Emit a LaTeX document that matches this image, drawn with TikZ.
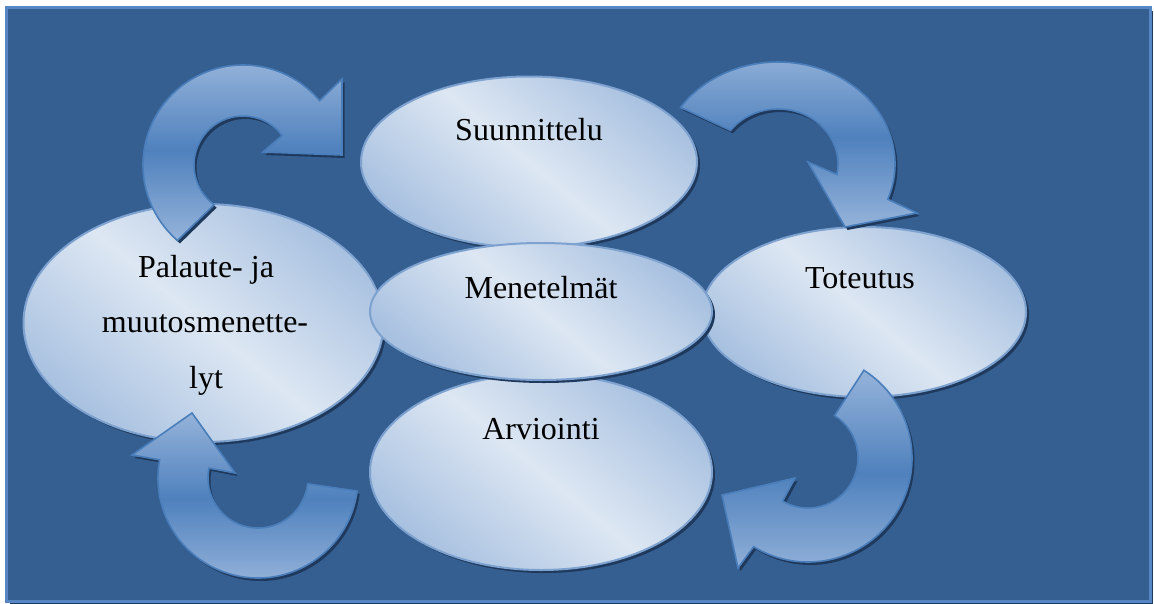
\documentclass[tikz,border=0pt]{standalone}
\usepackage{fontspec}
\setmainfont{Liberation Serif}
\usetikzlibrary{shapes.geometric,shadows,calc}
\definecolor{bgfill}{RGB}{54,95,145}
\definecolor{bgline}{RGB}{86,134,196}
\definecolor{shadowcol}{RGB}{31,57,92}
\definecolor{arrline}{RGB}{74,126,187}
\definecolor{arrlight}{RGB}{149,179,218}
\definecolor{arrmid}{RGB}{79,129,189}
\definecolor{ellline}{RGB}{125,162,208}
\definecolor{elllight}{RGB}{221,231,243}
\definecolor{elldark}{RGB}{168,193,224}
\begin{document}
\begin{tikzpicture}[x=1pt,y=-1pt,
  ell/.style={ellipse, inner sep=0pt, draw=ellline, line width=2pt,
    general shadow={fill=shadowcol, shadow xshift=3pt, shadow yshift=-3pt},
    top color=elldark, bottom color=elldark, middle color=elllight, shading angle=-40},
  lbl/.style={font=\fontsize{32}{38}\selectfont, text=black, inner sep=0pt, anchor=base},
  arr/.style={draw=arrline, line width=1.6pt, line join=miter,
    general shadow={fill=shadowcol, shadow xshift=2.5pt, shadow yshift=-3pt},
    top color=arrlight, bottom color=arrlight, middle color=arrmid}]
\useasboundingbox (0,0) rectangle (1154,603);
% background panel
\path[fill=bgfill, draw=bgline, line width=3pt,
  general shadow={fill=shadowcol, shadow xshift=3pt, shadow yshift=-3pt}]
  (6.5,7.5) rectangle (1150,601.5);
% ellipses
\node[ell, minimum width=336pt, minimum height=171pt] (suun) at (529,162) {};
\node[ell, minimum width=342pt, minimum height=196pt] (arvi) at (541,472) {};
\node[ell, minimum width=360pt, minimum height=238pt] (pala) at (203.5,323) {};
\node[ell, minimum width=324pt, minimum height=170pt] (tote) at (864,312) {};
\node[ell, minimum width=342pt, minimum height=137pt] (mene) at (541,311.5) {};
% labels
\node[lbl] (tsuun) at (529,140) {Suunnittelu};
\node[lbl] (tmene) at (541,298) {Menetelmät};
\node[lbl] (ttote) at (860,288) {Toteutus};
\node[lbl] (tarvi) at (541,439) {Arviointi};
\node[lbl] (tpal1) at (206,277) {Palaute- ja};
\node[lbl] (tpal2) at (205,332.5) {muutosmenette-};
\node[lbl] (tpal3) at (206,388) {lyt};
% curved block arrows
\path[arr] ($(243,165)+(131:100)$) arc[start angle=131, end angle=320, radius=100]
  -- (342,79) -- (342,155) -- (263,152)
  -- ($(243,165)+(323:49)$) arc[start angle=323, end angle=126, radius=49] -- cycle;
\path[arr] ($(778,164)+(213.7:117 and 102)$) arc[start angle=213.7, end angle=380.2, x radius=117, y radius=102]
  -- (917,213) -- (845,227) -- (808,162)
  -- ($(778,164)+(371:60 and 55)$) arc[start angle=371, end angle=217.7, x radius=60, y radius=55] -- cycle;
\path[arr] ($(808,458)+(-57.5:104)$) arc[start angle=-57.5, end angle=121.5, radius=104]
  -- (738,568) -- (722,495) -- (795,478)
  -- ($(808,458)+(120.5:50)$) arc[start angle=120.5, end angle=-57.9, radius=50] -- cycle;
\path[arr] ($(258,478)+(7.5:100)$) arc[start angle=7.5, end angle=190.5, radius=100]
  -- (132,455) -- (192,413) -- (235,473)
  -- ($(258,478)+(191.5:50)$) arc[start angle=191.5, end angle=6.7, radius=50] -- cycle;
\end{tikzpicture}
\end{document}
